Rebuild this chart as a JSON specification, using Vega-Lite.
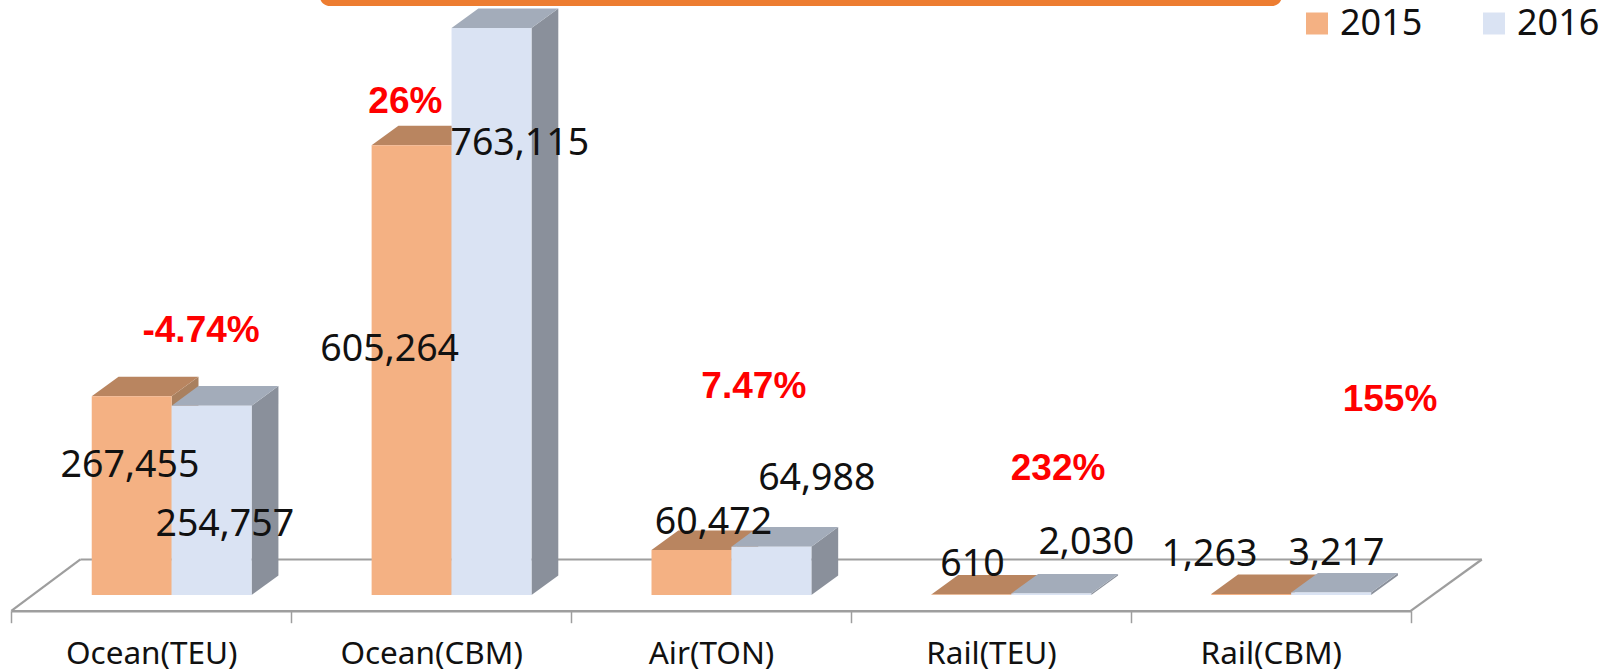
{
"$schema":"https://vega.github.io/schema/vega-lite/v6.json",
"width":1616,"height":672,"padding":0,"autosize":{"type":"none"},"background":"white",
"config":{"view":{"stroke":null}},
"datasets":{
"bars":[
{"group":"Ocean(TEU)","year":"2015","value":267455},{"group":"Ocean(TEU)","year":"2016","value":254757},
{"group":"Ocean(CBM)","year":"2015","value":605264},{"group":"Ocean(CBM)","year":"2016","value":763115},
{"group":"Air(TON)","year":"2015","value":60472},{"group":"Air(TON)","year":"2016","value":64988},
{"group":"Rail(TEU)","year":"2015","value":610},{"group":"Rail(TEU)","year":"2016","value":2030},
{"group":"Rail(CBM)","year":"2015","value":1263},{"group":"Rail(CBM)","year":"2016","value":3217}],
"valueLabels":[
{"value":267455,"at":0.424,"level":173500},{"value":254757,"at":0.763,"level":94500},
{"value":605264,"at":1.352,"level":330000},{"value":763115,"at":1.817,"level":607500},
{"value":60472,"at":2.509,"level":97000},{"value":64988,"at":2.878,"level":156500},
{"value":610,"at":3.434,"level":40500},{"value":2030,"at":3.841,"level":70000},
{"value":1263,"at":4.281,"level":54000},{"value":3217,"at":4.735,"level":55500}],
"changes":[
{"change":"-4.74%","at":0.678,"level":355500},{"change":"26%","at":1.408,"level":663500},
{"change":"7.47%","at":2.653,"level":280600},{"change":"232%","at":3.74,"level":169600},
{"change":"155%","at":4.926,"level":262600}],
"floor":[
{"x0":0,"y0":-21400,"x1":0.2469,"y1":47800},
{"x0":0.2469,"y0":47800,"x1":5.254,"y1":47800},
{"x0":5.254,"y0":47800,"x1":5,"y1":-21400}],
"banner":[{"x0":1.102,"x1":4.54,"y0":792700,"y1":840000}]
},
"resolve":{"scale":{"x":"independent","color":"independent"},"axis":{"x":"independent"}},
"layer":[
{"data":{"name":"bars"},"mark":{"type":"rule","opacity":0},
 "encoding":{"x":{"field":"group","type":"nominal","sort":null,
  "scale":{"domain":["Ocean(TEU)","Ocean(CBM)","Air(TON)","Rail(TEU)","Rail(CBM)"],"range":[11.3,1410.7],"paddingInner":0,"paddingOuter":0},
  "axis":{"title":null,"offset":-61.3,"labelAngle":0,"tickBand":"extent","domainColor":"#9E9E9E","domainWidth":2.5,"tickColor":"#9E9E9E","tickWidth":1.5,"tickSize":12,"labelPadding":16,"labelLimit":400,"labelFont":"Noto Sans","labelFontSize":31.5,"labelColor":"#111111","grid":false}}}},
{"data":{"name":"floor"},"mark":{"type":"rule","color":"#9E9E9E","strokeWidth":2.2},
 "encoding":{"x":{"field":"x0","type":"quantitative","scale":{"domain":[0,5],"range":[11.3,1410.7]},"axis":null},"x2":{"field":"x1"},
  "y":{"field":"y0","type":"quantitative","scale":{"domain":[-103634,800808]},"axis":null},"y2":{"field":"y1"}}},
{"data":{"name":"banner"},"mark":{"type":"rect","color":"#ED7D31","cornerRadius":10},
 "encoding":{"x":{"field":"x0","type":"quantitative","scale":{"domain":[0,5],"range":[11.3,1410.7]},"axis":null},"x2":{"field":"x1"},
  "y":{"field":"y0","type":"quantitative","scale":{"domain":[-103634,800808]},"axis":null},"y2":{"field":"y1"}}},
{"data":{"name":"bars"},
 "transform":[
  {"calculate":"indexof(['Ocean(TEU)','Ocean(CBM)','Air(TON)','Rail(TEU)','Rail(CBM)'],datum.group)+0.2874+(datum.year=='2015'?0:0.2856)","as":"left"},
  {"calculate":"[0,1]","as":"v"},{"flatten":["v"]},
  {"calculate":"datum.left+0.2856+datum.v*0.0958","as":"sx"},
  {"calculate":"datum.value+datum.v*26400","as":"st"},
  {"calculate":"datum.v*26400","as":"sb"}],
 "mark":{"type":"area","orient":"vertical"},
 "encoding":{"x":{"field":"sx","type":"quantitative","scale":{"domain":[0,5],"range":[11.3,1410.7]},"axis":null},
  "y":{"field":"st","type":"quantitative","stack":null,"scale":{"domain":[-103634,800808]},"axis":null},"y2":{"field":"sb"},
  "detail":{"field":"group"},
  "color":{"field":"year","type":"nominal","scale":{"domain":["2015","2016"],"range":["#A9805F","#8A909B"]},"legend":null}}},
{"data":{"name":"bars"},
 "transform":[
  {"calculate":"indexof(['Ocean(TEU)','Ocean(CBM)','Air(TON)','Rail(TEU)','Rail(CBM)'],datum.group)+0.2874+(datum.year=='2015'?0:0.2856)","as":"left"},
  {"calculate":"[0,1]","as":"v"},{"flatten":["v"]},
  {"calculate":"datum.left+datum.v*0.0958","as":"tl"},
  {"calculate":"datum.left+0.2856+datum.v*0.0958","as":"tr"},
  {"calculate":"datum.value+datum.v*26400","as":"ty"}],
 "mark":{"type":"area","orient":"horizontal"},
 "encoding":{"y":{"field":"ty","type":"quantitative","stack":null,"scale":{"domain":[-103634,800808]},"axis":null},
  "x":{"field":"tl","type":"quantitative","stack":null,"scale":{"domain":[0,5],"range":[11.3,1410.7]},"axis":null},"x2":{"field":"tr"},
  "detail":{"field":"group"},
  "color":{"field":"year","type":"nominal","scale":{"domain":["2015","2016"],"range":["#B98560","#A3ACBA"]},"legend":null}}},
{"data":{"name":"bars"},
 "transform":[
  {"calculate":"indexof(['Ocean(TEU)','Ocean(CBM)','Air(TON)','Rail(TEU)','Rail(CBM)'],datum.group)+0.2874+(datum.year=='2015'?0:0.2856)","as":"left"},
  {"calculate":"datum.left+0.2856","as":"right"}],
 "mark":{"type":"rect"},
 "encoding":{"x":{"field":"left","type":"quantitative","scale":{"domain":[0,5],"range":[11.3,1410.7]},"axis":null},"x2":{"field":"right"},
  "y":{"field":"value","type":"quantitative","scale":{"domain":[-103634,800808]},"axis":null},"y2":{"datum":0},
  "color":{"field":"year","type":"nominal","scale":{"domain":["2015","2016"],"range":["#F4B183","#DAE3F3"]},
   "legend":{"title":null,"orient":"none","legendX":1299,"legendY":5.5,"direction":"horizontal","columns":2,"padding":0,"symbolType":"square","symbolSize":484,"symbolStrokeWidth":0,"symbolOpacity":1,"labelFont":"Noto Sans","labelFontSize":36,"labelColor":"#111111","labelOffset":5,"columnPadding":53,"labelLimit":200}}}},
{"data":{"name":"valueLabels"},"mark":{"type":"text","font":"Noto Sans","fontSize":37.5,"color":"#111111","align":"center","baseline":"middle"},
 "encoding":{"x":{"field":"at","type":"quantitative","scale":{"domain":[0,5],"range":[11.3,1410.7]},"axis":null},
  "y":{"field":"level","type":"quantitative","scale":{"domain":[-103634,800808]},"axis":null},
  "text":{"field":"value","type":"quantitative","format":","}}},
{"data":{"name":"changes"},"mark":{"type":"text","font":"Liberation Sans","fontWeight":"bold","fontSize":37,"color":"#FF0000","align":"center","baseline":"middle"},
 "encoding":{"x":{"field":"at","type":"quantitative","scale":{"domain":[0,5],"range":[11.3,1410.7]},"axis":null},
  "y":{"field":"level","type":"quantitative","scale":{"domain":[-103634,800808]},"axis":null},
  "text":{"field":"change","type":"nominal"}}}
]
}
